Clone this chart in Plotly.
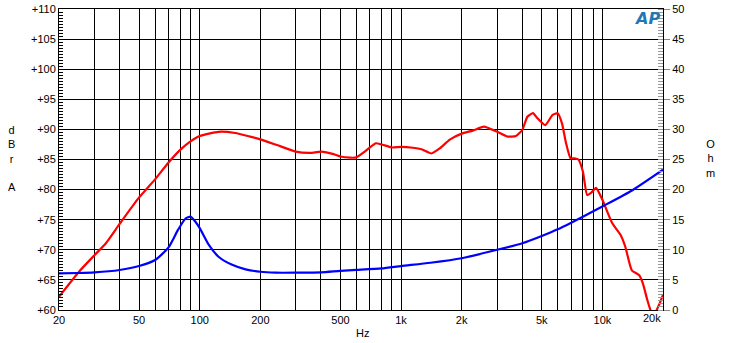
import plotly.graph_objects as go

# Frequency response (dBrA, left axis)
spl_freq = [20, 25.2, 30, 34.2, 40, 50, 60, 70, 80, 90, 100, 124, 150, 178, 200, 242,
            300, 354, 400, 462, 500, 558, 600, 660, 700, 750, 800, 900, 1000, 1146,
            1263, 1416, 1557, 1746, 2000, 2270, 2580, 3000, 3380, 3720, 4000, 4240,
            4520, 4760, 5200, 5660, 6000, 6300, 6600, 6950, 7280, 7600, 8000, 8400,
            8750, 9300, 10000, 11200, 12300, 13000, 14000, 15200, 15900, 16700, 17400,
            18000, 18400, 19200, 20000]
spl_db = [62.2, 66.4, 69.1, 71.1, 74.3, 78.7, 81.7, 84.5, 86.6, 88.0, 88.9, 89.6, 89.4,
          88.8, 88.35, 87.4, 86.3, 86.1, 86.3, 85.9, 85.5, 85.3, 85.35, 86.3, 87.0,
          87.7, 87.5, 87.0, 87.1, 86.95, 86.7, 86.0, 86.85, 88.3, 89.3, 89.8, 90.45,
          89.6, 88.8, 88.9, 89.9, 92.1, 92.7, 91.85, 90.7, 92.4, 92.7, 91.0, 87.7,
          85.2, 85.2, 85.0, 83.0, 79.1, 79.4, 80.3, 78.3, 74.4, 72.5, 70.5, 66.6,
          65.8, 64.4, 61.7, 59.8, 58.5, 59.6, 61.0, 62.5]

# Impedance (Ohm, right axis)
imp_freq = [20, 25, 30, 40, 50, 60, 70, 78, 85, 90, 95, 100, 111, 124, 145, 169, 200,
            238, 300, 400, 500, 600, 800, 1000, 1400, 2000, 3000, 4000, 5000, 6000,
            8000, 10000, 14100, 20000]
imp_ohm = [6.1, 6.15, 6.25, 6.65, 7.3, 8.3, 10.4, 13.3, 15.2, 15.5, 14.7, 13.6, 10.8,
           8.85, 7.5, 6.75, 6.35, 6.2, 6.2, 6.25, 6.5, 6.65, 6.9, 7.3, 7.85, 8.6, 10.0,
           11.1, 12.3, 13.4, 15.5, 17.2, 19.9, 23.3]

grid_freqs = [20, 30, 40, 50, 60, 70, 80, 90, 100, 200, 300, 400, 500, 600, 700, 800,
              900, 1000, 2000, 3000, 4000, 5000, 6000, 7000, 8000, 9000, 10000, 20000]
freq_labels = {20: "20", 50: "50", 100: "100", 200: "200", 500: "500", 1000: "1k",
               2000: "2k", 5000: "5k", 10000: "10k"}

db_ticks = list(range(60, 111, 5))
db_labels = ["+%d" % v for v in db_ticks]
ohm_ticks = list(range(0, 51, 5))
ohm_labels = [str(v) for v in ohm_ticks]

FONT = "Liberation Sans, Arial, sans-serif"

fig = go.Figure()
fig.add_trace(go.Scatter(x=imp_freq, y=imp_ohm, yaxis="y2", mode="lines",
                         line=dict(color="#0000ff", width=2.2, shape="spline", smoothing=0.6),
                         hoverinfo="skip"))
fig.add_trace(go.Scatter(x=spl_freq, y=spl_db, mode="lines",
                         line=dict(color="#ff0000", width=2.2, shape="spline", smoothing=0.5),
                         hoverinfo="skip"))

fig.update_layout(
    width=730, height=343,
    margin=dict(l=59, r=67, t=9, b=33, autoexpand=False),
    paper_bgcolor="white", plot_bgcolor="white",
    showlegend=False,
    font=dict(family=FONT, size=11, color="black"),
    xaxis=dict(type="log", range=[1.30103, 4.30103], automargin=False,
               tickmode="array", tickvals=grid_freqs,
               ticktext=[freq_labels.get(f, "") for f in grid_freqs],
               showgrid=True, gridcolor="black", gridwidth=1,
               ticks="", showline=True, linecolor="black", linewidth=1, mirror=True,
               zeroline=False, tickfont=dict(size=11)),
    yaxis=dict(range=[60, 110], tickmode="array", tickvals=db_ticks, ticktext=db_labels,
               automargin=False,
               showgrid=True, gridcolor="black", gridwidth=1,
               ticks="inside", ticklen=4, tickcolor="black",
               minor=dict(dtick=0.5, ticks="inside", ticklen=4, tickcolor="black", showgrid=False),
               showline=True, linecolor="black", linewidth=1, mirror=False,
               zeroline=False, tickfont=dict(size=11)),
    yaxis2=dict(range=[0, 50], overlaying="y", side="right", tickmode="array",
                automargin=False,
                tickvals=ohm_ticks, ticktext=ohm_labels, showgrid=False,
                ticks="outside", ticklen=6, tickcolor="#888888",
                minor=dict(dtick=0.5, ticks="inside", ticklen=5, tickcolor="#999999"),
                showline=True, linecolor="black", linewidth=1,
                zeroline=False, tickfont=dict(size=11)),
)

fig.add_annotation(text="d<br>B<br>r<br> <br>A", xref="paper", yref="paper", x=-0.077, y=0.502,
                   showarrow=False, font=dict(size=11), align="center",
                   xanchor="center", yanchor="middle")
fig.add_annotation(text="O<br>h<br>m", xref="paper", yref="paper", x=1.078, y=0.502,
                   showarrow=False, font=dict(size=11), align="center",
                   xanchor="center", yanchor="middle")
fig.add_annotation(text="Hz", xref="paper", yref="paper", x=0.5017, y=-0.0764,
                   showarrow=False, font=dict(size=11), xanchor="center", yanchor="middle")
fig.add_annotation(text="20k", xref="paper", yref="paper", x=1.0, y=-0.028,
                   showarrow=False, font=dict(size=11), xanchor="right", yanchor="middle")
fig.add_annotation(text="<b><i>AP</i></b>", xref="paper", yref="paper", x=0.974, y=0.968,
                   showarrow=False, font=dict(size=16, color="#1f78b4", family="DejaVu Sans"),
                   xanchor="center", yanchor="middle")

fig.write_html("out.html", post_script="document.body.style.margin='0';",
               config={"displayModeBar": False})
